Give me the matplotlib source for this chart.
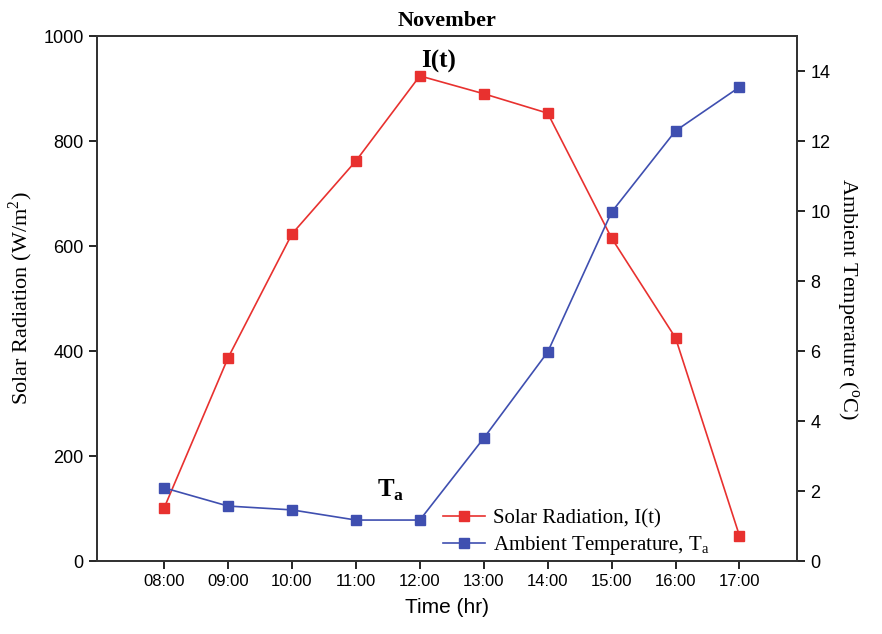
import matplotlib
matplotlib.use("Agg")
import matplotlib.pyplot as plt

hours = [8, 9, 10, 11, 12, 13, 14, 15, 16, 17]
hour_labels = ["08:00", "09:00", "10:00", "11:00", "12:00",
               "13:00", "14:00", "15:00", "16:00", "17:00"]
solar = [101, 387, 623, 762, 924, 890, 853, 615, 425, 48]
ambient = [2.09, 1.57, 1.46, 1.17, 1.17, 3.51, 5.97, 9.97, 12.29, 13.54]

red = "#e8312f"
blue = "#3f4fb0"
serif = "Liberation Serif"
sans = "Liberation Sans"

fig = plt.figure(figsize=(8.82, 6.34), dpi=100)
ax = fig.add_axes([97 / 882, 1 - 561 / 634, 700 / 882, 525 / 634])
ax2 = ax.twinx()

l1, = ax.plot(hours, solar, color=red, marker="s", ms=7, lw=1.2,
              label="Solar Radiation, I(t)")
l2, = ax2.plot(hours, ambient, color=blue, marker="s", ms=7, lw=1.2,
               label="Ambient Temperature, T$_\\mathregular{a}$")

ax.set_xlim(6.95, 17.9)
ax.set_ylim(0, 1000)
ax2.set_ylim(0, 15)
ax.set_xticks(hours)
ax.set_xticklabels(hour_labels, fontfamily=sans, fontsize=12)
ax.set_yticks(range(0, 1001, 200))
ax2.set_yticks(range(0, 15, 2))
for t in ax.get_yticklabels() + ax2.get_yticklabels():
    t.set_fontfamily(sans)
    t.set_fontsize(13)
for a in (ax, ax2):
    a.tick_params(direction="out", length=6, width=1.2, colors="black")
    for s in a.spines.values():
        s.set_linewidth(1.3)
        s.set_color("#333333")

ax.set_xlabel("Time (hr)", fontfamily=sans, fontsize=15, labelpad=6)
ax.set_ylabel("Solar Radiation (W/m$^\\mathregular{2}$)", fontfamily=serif,
              fontsize=16, labelpad=6)
ax2.set_ylabel("Ambient Temperature ($^\\mathregular{o}$C)", fontfamily=serif,
               fontsize=16, rotation=270, labelpad=22)
ax.set_title("November", fontfamily=serif, fontweight="bold", fontsize=16, pad=7)

ax.text(12.3, 930, "I(t)", fontfamily=serif, fontweight="bold", fontsize=18,
        ha="center", va="bottom")
ax2.text(11.55, 1.65, "T$_\\mathregular{a}$", fontfamily=serif, fontweight="bold",
         fontsize=18, ha="center", va="bottom")

ax.legend(handles=[l1, l2], loc="lower left", bbox_to_anchor=(0.474, -0.02),
          frameon=False, prop={"family": serif, "size": 15},
          handlelength=2.0, handletextpad=0.4, borderaxespad=0.3,
          labelspacing=0.25)

fig.savefig("out.png", dpi=100)
